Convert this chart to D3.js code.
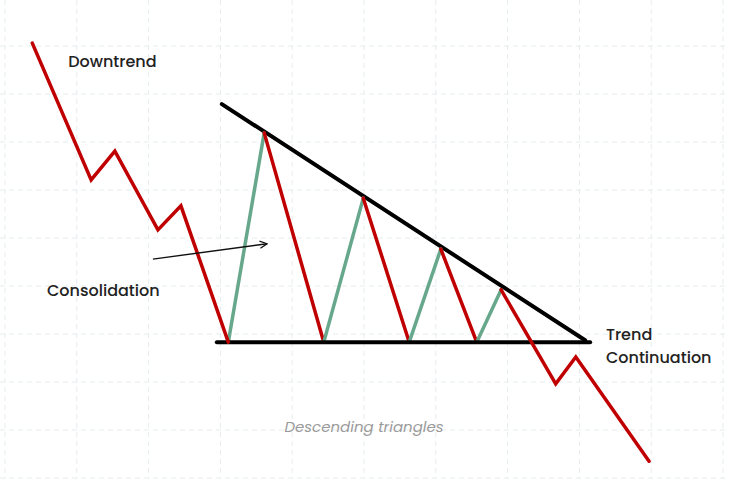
<!DOCTYPE html>
<html>
<head>
<meta charset="utf-8">
<script src="https://cdn.jsdelivr.net/npm/d3@7"></script>
<style>
  html, body { margin: 0; padding: 0; background: #fff; }
  svg { display: block; }
</style>
</head>
<body>
<div id="chart"></div>
<script>
// Chart data (grid units: x = column, y = price level)
const gridCols = d3.range(0, 11);
const gridRows = d3.range(0, 11);

const downtrend = [
    { x: 0.38, y: 9.06 }, { x: 1.20, y: 6.21 }, { x: 1.53, y: 6.81 },
    { x: 2.13, y: 5.17 }, { x: 2.45, y: 5.67 }, { x: 3.11, y: 2.83 }
];

// consolidation swings: up legs are green, down legs red
const swings = [
    { x: 3.11, y: 2.83 }, { x: 3.61, y: 7.19 }, { x: 4.44, y: 2.83 },
    { x: 4.99, y: 5.83 }, { x: 5.63, y: 2.83 }, { x: 6.07, y: 4.77 },
    { x: 6.57, y: 2.83 }, { x: 6.91, y: 3.92 }
];

const continuation = [
    { x: 6.91, y: 3.92 }, { x: 7.67, y: 1.96 }, { x: 7.95, y: 2.52 },
    { x: 8.97, y: 0.35 }
];

const resistance = [{ x: 3.02, y: 7.79 }, { x: 8.08, y: 2.87 }];
const support = [{ x: 2.95, y: 2.83 }, { x: 8.15, y: 2.83 }];
const arrowPts = [{ x: 2.06, y: 4.56 }, { x: 3.65, y: 4.88 }];

const labels = [
    { text: "Downtrend", x: 0.88, y: 8.56 },
    { text: "Consolidation", x: 0.585, y: 3.79 },
    { text: "Trend", x: 8.37, y: 2.87 },
    { text: "Continuation", x: 8.37, y: 2.39 }
];
const caption = { text: "Descending triangles", x: 5.0, y: 0.96 };

const width = 729, height = 479;

const x = d3.scaleLinear().domain([0, 10]).range([5, 723]);
const y = d3.scaleLinear().domain([0, 10]).range([478, -2]);

const svg = d3.select('#chart')
    .append('svg')
    .attr('width', width)
    .attr('height', height)
    .style('font-family', 'Poppins, Inter, "Noto Sans", sans-serif');

svg.append('defs').append('marker')
    .attr('id', 'arrow')
    .attr('viewBox', '0 0 10 10')
    .attr('refX', 9).attr('refY', 5)
    .attr('markerWidth', 9).attr('markerHeight', 9)
    .attr('markerUnits', 'userSpaceOnUse')
    .attr('orient', 'auto')
    .append('path')
    .attr('d', 'M1,1 L9,5 L1,9')
    .attr('fill', 'none')
    .attr('stroke', '#111')
    .attr('stroke-width', 1.4);

// grid
const grid = svg.append('g')
    .attr('stroke', '#e6ecee')
    .attr('stroke-width', 1)
    .attr('stroke-dasharray', '5,4');

grid.selectAll('.vline').data(gridCols).enter()
    .append('line')
    .attr('x1', d => x(d)).attr('x2', d => x(d))
    .attr('y1', 0).attr('y2', height);

grid.selectAll('.hline').data(gridRows).enter()
    .append('line')
    .attr('y1', d => y(d)).attr('y2', d => y(d))
    .attr('x1', 0).attr('x2', width);

const line = d3.line().x(d => x(d.x)).y(d => y(d.y));

// trend lines
svg.append('path').datum(resistance)
    .attr('d', line).attr('fill', 'none')
    .attr('stroke', '#000').attr('stroke-width', 4)
    .attr('stroke-linecap', 'round');

// swing legs
const legs = d3.pairs(swings);
svg.selectAll('.leg').data(legs).enter()
    .append('path')
    .attr('d', d => line(d))
    .attr('fill', 'none')
    .attr('stroke', d => d[1].y > d[0].y ? '#67a88c' : '#c00000')
    .attr('stroke-width', 3.5)
    .attr('stroke-linecap', 'round');

svg.append('path').datum(support)
    .attr('d', line).attr('fill', 'none')
    .attr('stroke', '#000').attr('stroke-width', 4)
    .attr('stroke-linecap', 'round');

[downtrend, continuation].forEach(seg => {
    svg.append('path').datum(seg)
        .attr('d', line).attr('fill', 'none')
        .attr('stroke', '#c00000').attr('stroke-width', 3.5)
        .attr('stroke-linejoin', 'miter')
        .attr('stroke-linecap', 'round');
});

// arrow
svg.append('path').datum(arrowPts)
    .attr('d', line).attr('fill', 'none')
    .attr('stroke', '#111').attr('stroke-width', 1.4)
    .attr('marker-end', 'url(#arrow)');

// labels
svg.selectAll('.label').data(labels).enter()
    .append('text')
    .attr('x', d => x(d.x))
    .attr('y', d => y(d.y))
    .attr('fill', '#222')
    .attr('font-size', 16)
    .attr('font-weight', 500)
    .text(d => d.text);

svg.append('text')
    .attr('x', x(caption.x))
    .attr('y', y(caption.y))
    .attr('text-anchor', 'middle')
    .attr('fill', '#9a9a9a')
    .attr('font-size', 15)
    .attr('font-style', 'italic')
    .text(caption.text);
</script>
</body>
</html>
